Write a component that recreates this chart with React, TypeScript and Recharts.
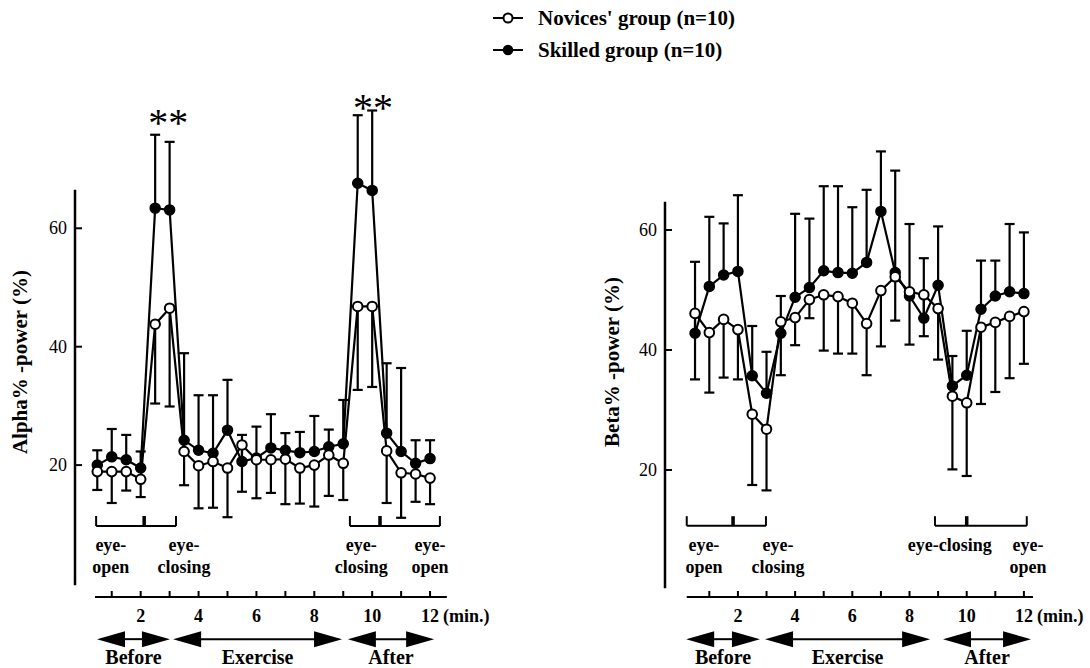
import React from 'react';
import { LineChart, Line, XAxis, YAxis, ErrorBar, ReferenceLine, ReferenceDot } from 'recharts';

// minutes of each sample (every half minute)
const TIMES = [0.5, 1, 1.5, 2, 2.5, 3, 3.5, 4, 4.5, 5, 5.5, 6, 6.5, 7, 7.5, 8, 8.5, 9, 9.5, 10, 10.5, 11, 11.5, 12];
const X_TICKS = [1, 2, 3, 4, 5, 6, 7, 8, 9, 10, 11, 12];
const Y_TICKS = [20, 40, 60];

// Alpha% power
const ALPHA_NOVICE = [18.9, 18.9, 18.9, 17.6, 43.8, 46.5, 22.3, 19.9, 20.6, 19.5, 23.4, 20.9, 20.9, 21.0, 19.5, 20.0, 21.7, 20.3, 46.8, 46.8, 22.4, 18.7, 18.5, 17.8];
const ALPHA_NOVICE_SD = [3.1, 5.3, 3.2, 3.0, 13.4, 16.6, 5.7, 7.2, 7.8, 8.3, 7.9, 6.5, 5.6, 7.6, 6.0, 7.0, 6.9, 6.2, 14.1, 13.6, 8.8, 7.6, 4.7, 4.4];
const ALPHA_SKILLED = [20.0, 21.4, 20.9, 19.5, 63.4, 63.1, 24.2, 22.5, 22.0, 25.9, 20.6, 21.2, 22.9, 22.5, 22.1, 22.3, 23.1, 23.6, 67.6, 66.4, 25.4, 22.3, 20.3, 21.1];
const ALPHA_SKILLED_SD = [2.5, 4.7, 4.2, 2.8, 12.4, 11.5, 14.7, 9.3, 9.8, 8.5, 4.5, 5.3, 5.7, 2.9, 3.5, 6.0, 2.9, 7.4, 11.5, 13.5, 11.8, 14.1, 3.9, 3.1];

// Beta% power
const BETA_NOVICE = [46.1, 42.9, 45.1, 43.4, 29.3, 26.8, 44.7, 45.4, 48.4, 49.2, 48.9, 47.8, 44.4, 49.9, 52.2, 49.7, 49.2, 46.9, 32.3, 31.2, 43.8, 44.6, 45.6, 46.4];
const BETA_NOVICE_SD = [11.0, 10.0, 9.7, 8.3, 11.8, 10.2, 8.9, 4.6, 3.1, 9.3, 9.5, 8.4, 8.6, 9.3, 7.3, 8.8, 6.9, 8.5, 12.2, 12.2, 12.8, 11.6, 10.3, 8.7];
const BETA_SKILLED = [42.8, 50.6, 52.5, 53.1, 35.7, 32.8, 42.8, 48.8, 50.4, 53.2, 52.9, 52.8, 54.6, 63.1, 52.9, 49.0, 45.3, 50.8, 34.0, 35.8, 46.8, 49.0, 49.7, 49.4];
const BETA_SKILLED_SD = [11.9, 11.6, 8.6, 12.7, 8.3, 6.9, 6.2, 13.9, 11.5, 14.1, 14.4, 11.0, 12.1, 10.0, 17.0, 12.0, 10.0, 9.8, 5.0, 7.4, 8.1, 5.9, 11.3, 10.2];

const FONT = '"Liberation Serif", "Times New Roman", serif';

const buildRows = (nov: number[], novSd: number[], sk: number[], skSd: number[]) =>
  TIMES.map((t, i) => ({
    t,
    nov: nov[i],
    novErr: [novSd[i], 0],
    sk: sk[i],
    skErr: [0, skSd[i]],
  }));

const XTick = ({ x, y, payload }: any) => {
  const v = payload.value;
  return (
    <g>
      <line x1={x} x2={x} y1={y} y2={y - 6} stroke="#000" strokeWidth={2} />
      {v % 2 === 0 && (
        <text x={x} y={y + 25} textAnchor="middle" fontFamily={FONT} fontWeight="bold" fontSize={18} fill="#000">
          {v}
        </text>
      )}
      {v === 12 && (
        <text x={x + 13} y={y + 25} fontFamily={FONT} fontWeight="bold" fontSize={18} fill="#000">
          (min.)
        </text>
      )}
    </g>
  );
};

const YTick = ({ x, y, payload }: any) => (
  <g>
    <line x1={x} x2={x + 7} y1={y} y2={y} stroke="#000" strokeWidth={2} />
    <text x={x - 8} y={y + 6} textAnchor="end" fontFamily={FONT} fontSize={18} fill="#000">
      {payload.value}
    </text>
  </g>
);

const arrowShape = (label: string) => (p: any) => {
  const { x1, x2, y1 } = p;
  const L = 28;
  const H = 8;
  return (
    <g>
      <line x1={x1 + L - 2} x2={x2 - L + 2} y1={y1} y2={y1} stroke="#000" strokeWidth={2} />
      <polygon points={`${x1},${y1} ${x1 + L},${y1 - H} ${x1 + L},${y1 + H}`} fill="#000" />
      <polygon points={`${x2},${y1} ${x2 - L},${y1 - H} ${x2 - L},${y1 + H}`} fill="#000" />
      <text x={(x1 + x2) / 2} y={y1 + 25} textAnchor="middle" fontFamily={FONT} fontWeight="bold" fontSize={20} fill="#000">
        {label}
      </text>
    </g>
  );
};

const noteShape = (lines: string[]) => (p: any) => (
  <text x={p.cx} y={p.cy + 6} textAnchor="middle" fontFamily={FONT} fontWeight="bold" fontSize={18} fill="#000">
    {lines.map((s, i) => (
      <tspan key={s + i} x={p.cx} dy={i === 0 ? 0 : 22}>
        {s}
      </tspan>
    ))}
  </text>
);

const starShape = (p: any) => (
  <text x={p.cx} y={p.cy + 19} textAnchor="middle" fontFamily={FONT} fontSize={40} fill="#000">
    **
  </text>
);

const titleShape = (text: string, dx: number) => (p: any) => (
  <text
    x={p.cx + dx}
    y={p.cy}
    transform={`rotate(-90, ${p.cx + dx}, ${p.cy})`}
    textAnchor="middle"
    dominantBaseline="central"
    fontFamily={FONT}
    fontWeight="bold"
    fontSize={21}
    fill="#000"
  >
    {text}
  </text>
);

const LEFT_PANEL = {
  left: 0,
  marginLeft: 5,
  marginRight: 86,
  xDomain: [-0.27, 13],
  yDomain: [-2.28, 81.67],
  yAxisRange: [-0.3, 66.5],
  xLine: [0.42, 12.58],
  bracketY: 9.7,
  bracketTop: 11.4,
  brackets: [
    { from: 0.46, to: 3.22, mid: 2.12 },
    { from: 9.23, to: 12.34, mid: 10.27 },
  ],
  noteY: 6.5,
  notes: [
    { t: 0.97, lines: ['eye-', 'open'] },
    { t: 3.5, lines: ['eye-', 'closing'] },
    { t: 9.62, lines: ['eye-', 'closing'] },
    { t: 12.0, lines: ['eye-', 'open'] },
  ],
  arrowY: -9.4,
  arrows: [
    { from: 0.49, to: 3.01, label: 'Before' },
    { from: 3.12, to: 8.96, label: 'Exercise' },
    { from: 9.16, to: 12.14, label: 'After' },
  ],
  stars: [
    { t: 2.95, v: 78.8 },
    { t: 10.03, v: 81.3 },
  ],
  title: 'Alpha% -power (%)',
  titleV: 37.4,
  titleDx: -55,
};

const RIGHT_PANEL = {
  left: 545,
  marginLeft: 50,
  marginRight: 37.5,
  xDomain: [-0.55, 13],
  yDomain: [-1.17, 81.67],
  yAxisRange: [0.3, 64.7],
  xLine: [0.21, 12.32],
  bracketY: 10.7,
  bracketTop: 12.3,
  brackets: [
    { from: 0.21, to: 2.98, mid: 1.83 },
    { from: 8.89, to: 12.1, mid: 10.0 },
  ],
  noteY: 7.5,
  notes: [
    { t: 0.81, lines: ['eye-', 'open'] },
    { t: 3.4, lines: ['eye-', 'closing'] },
    { t: 9.41, lines: ['eye-closing'] },
    { t: 12.14, lines: ['eye-', 'open'] },
  ],
  arrowY: -8.2,
  arrows: [
    { from: 0.19, to: 2.77, label: 'Before' },
    { from: 2.95, to: 8.72, label: 'Exercise' },
    { from: 9.17, to: 12.25, label: 'After' },
  ],
  stars: [] as { t: number; v: number }[],
  title: 'Beta% -power (%)',
  titleV: 38,
  titleDx: -53,
};

function Panel({ cfg, data }: { cfg: typeof LEFT_PANEL; data: any[] }) {
  const xMin = cfg.xDomain[0];
  const yMin = cfg.yDomain[0];
  return (
    <div style={{ position: 'absolute', left: cfg.left, top: 0 }}>
      <LineChart
        width={545}
        height={668}
        data={data}
        margin={{ top: 100, right: cfg.marginRight, bottom: 31, left: cfg.marginLeft }}
      >
        <XAxis
          type="number"
          dataKey="t"
          domain={cfg.xDomain as [number, number]}
          allowDataOverflow
          ticks={X_TICKS}
          interval={0}
          axisLine={false}
          tickLine={false}
          tickSize={0}
          tickMargin={0}
          height={40}
          tick={(p: any) => <XTick {...p} />}
        />
        <YAxis
          type="number"
          domain={cfg.yDomain as [number, number]}
          allowDataOverflow
          ticks={Y_TICKS}
          interval={0}
          axisLine={false}
          tickLine={false}
          tickSize={0}
          tickMargin={0}
          width={70}
          tick={(p: any) => <YTick {...p} />}
        />

        {/* detached axis lines */}
        <ReferenceLine
          segment={[{ x: xMin, y: cfg.yAxisRange[0] }, { x: xMin, y: cfg.yAxisRange[1] }]}
          stroke="#000"
          strokeWidth={2.5}
          ifOverflow="visible"
        />
        <ReferenceLine
          segment={[{ x: cfg.xLine[0], y: yMin }, { x: cfg.xLine[1], y: yMin }]}
          stroke="#000"
          strokeWidth={2}
          ifOverflow="visible"
        />

        {/* eye-open / eye-closing brackets */}
        {cfg.brackets.map((b, i) => (
          <ReferenceLine
            key={'bh' + i}
            segment={[{ x: b.from, y: cfg.bracketY }, { x: b.to, y: cfg.bracketY }]}
            stroke="#000"
            strokeWidth={2}
            ifOverflow="visible"
          />
        ))}
        {cfg.brackets.flatMap((b, i) =>
          [b.from, b.mid, b.to].map((t, j) => (
            <ReferenceLine
              key={'bt' + i + '-' + j}
              segment={[{ x: t, y: cfg.bracketY }, { x: t, y: cfg.bracketTop }]}
              stroke="#000"
              strokeWidth={j === 1 ? 3.5 : 2}
              ifOverflow="visible"
            />
          )),
        )}
        {cfg.notes.map((n, i) => (
          <ReferenceDot key={'n' + i} x={n.t} y={cfg.noteY} r={0} ifOverflow="visible" shape={noteShape(n.lines)} />
        ))}

        {/* period arrows */}
        {cfg.arrows.map((a, i) => (
          <ReferenceLine
            key={'a' + i}
            segment={[{ x: a.from, y: cfg.arrowY }, { x: a.to, y: cfg.arrowY }]}
            ifOverflow="visible"
            shape={arrowShape(a.label)}
          />
        ))}

        {cfg.stars.map((s, i) => (
          <ReferenceDot key={'s' + i} x={s.t} y={s.v} r={0} ifOverflow="visible" shape={starShape} />
        ))}

        <ReferenceDot x={xMin} y={cfg.titleV} r={0} ifOverflow="visible" shape={titleShape(cfg.title, cfg.titleDx)} />

        {/* error bars drawn underneath the markers */}
        <Line dataKey="sk" stroke="none" dot={false} activeDot={false} isAnimationActive={false}>
          <ErrorBar dataKey="skErr" direction="y" width={5} stroke="#000" strokeWidth={2.2} isAnimationActive={false} />
        </Line>
        <Line dataKey="nov" stroke="none" dot={false} activeDot={false} isAnimationActive={false}>
          <ErrorBar dataKey="novErr" direction="y" width={5} stroke="#000" strokeWidth={2.2} isAnimationActive={false} />
        </Line>

        <Line
          dataKey="sk"
          stroke="#000"
          strokeWidth={2.2}
          dot={{ r: 5, fill: '#000', stroke: '#000', strokeWidth: 1.5 }}
          activeDot={false}
          isAnimationActive={false}
        />
        <Line
          dataKey="nov"
          stroke="#000"
          strokeWidth={2.2}
          dot={{ r: 4.8, fill: '#fff', stroke: '#000', strokeWidth: 2 }}
          activeDot={false}
          isAnimationActive={false}
        />
      </LineChart>
    </div>
  );
}

function Legend() {
  return (
    <svg width={300} height={70} style={{ position: 'absolute', left: 480, top: 0 }}>
      <line x1={13} x2={43} y1={18} y2={18} stroke="#000" strokeWidth={2} />
      <circle cx={28} cy={18} r={4.5} fill="#fff" stroke="#000" strokeWidth={2} />
      <text x={58} y={25} fontFamily={FONT} fontWeight="bold" fontSize={21} fill="#000">
        Novices' group (n=10)
      </text>
      <line x1={13} x2={43} y1={50} y2={50} stroke="#000" strokeWidth={2} />
      <circle cx={28} cy={50} r={4.5} fill="#000" stroke="#000" strokeWidth={1.5} />
      <text x={58} y={57} fontFamily={FONT} fontWeight="bold" fontSize={21} fill="#000">
        Skilled group (n=10)
      </text>
    </svg>
  );
}

export default function App() {
  const alphaRows = buildRows(ALPHA_NOVICE, ALPHA_NOVICE_SD, ALPHA_SKILLED, ALPHA_SKILLED_SD);
  const betaRows = buildRows(BETA_NOVICE, BETA_NOVICE_SD, BETA_SKILLED, BETA_SKILLED_SD);
  return (
    <div style={{ position: 'absolute', left: 0, top: 0, width: 1090, height: 668, background: '#fff', overflow: 'hidden' }}>
      <Legend />
      <Panel cfg={LEFT_PANEL} data={alphaRows} />
      <Panel cfg={RIGHT_PANEL} data={betaRows} />
    </div>
  );
}
